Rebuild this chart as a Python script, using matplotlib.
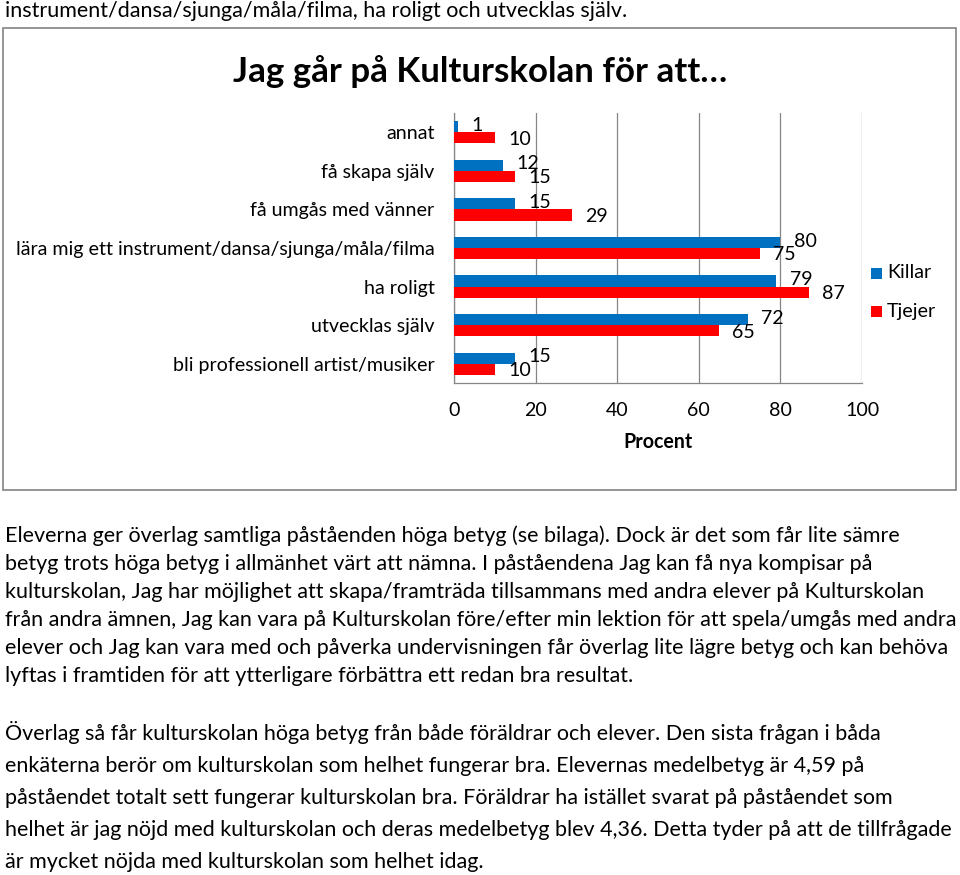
import matplotlib
matplotlib.use("Agg")
import matplotlib.pyplot as plt
from matplotlib.patches import Rectangle
import numpy as np

# ---------------- data ----------------
categories = ["annat", "få skapa själv", "få umgås med vänner",
              "lära mig ett instrument/dansa/sjunga/måla/filma",
              "ha roligt", "utvecklas själv", "bli professionell artist/musiker"]
killar = [1, 12, 15, 80, 79, 72, 15]
tjejer = [10, 15, 29, 75, 87, 65, 10]
series_names = ["Killar", "Tjejer"]
xticks = [0, 20, 40, 60, 80, 100]
title = "Jag går på Kulturskolan för att…"
xlabel = "Procent"

top_line = "instrument/dansa/sjunga/måla/filma, ha roligt och utvecklas själv."
para1 = [
    "Eleverna ger överlag samtliga påståenden höga betyg (se bilaga). Dock är det som får lite sämre",
    "betyg trots höga betyg i allmänhet värt att nämna. I påståendena Jag kan få nya kompisar på",
    "kulturskolan, Jag har möjlighet att skapa/framträda tillsammans med andra elever på Kulturskolan",
    "från andra ämnen, Jag kan vara på Kulturskolan före/efter min lektion för att spela/umgås med andra",
    "elever och Jag kan vara med och påverka undervisningen får överlag lite lägre betyg och kan behöva",
    "lyftas i framtiden för att ytterligare förbättra ett redan bra resultat.",
]
para2 = [
    "Överlag så får kulturskolan höga betyg från både föräldrar och elever. Den sista frågan i båda",
    "enkäterna berör om kulturskolan som helhet fungerar bra. Elevernas medelbetyg är 4,59 på",
    "påståendet totalt sett fungerar kulturskolan bra. Föräldrar ha istället svarat på påståendet som",
    "helhet är jag nöjd med kulturskolan och deras medelbetyg blev 4,36. Detta tyder på att de tillfrågade",
    "är mycket nöjda med kulturskolan som helhet idag.",
]

# ---------------- style ----------------
plt.rcParams['font.family'] = ['Lato', 'DejaVu Sans']
BLUE = "#0070C0"
RED = "#FF0000"
GRID = "#868686"
W, H = 960, 875

fig = plt.figure(figsize=(W / 100, H / 100), dpi=100)
renderer = fig.canvas.get_renderer()


def fx(x):
    return x / W


def fy(y):
    return 1 - y / H


def fit_size(s, target_px, weight="normal"):
    t = fig.text(0, 0, s, fontsize=10, weight=weight)
    w = t.get_window_extent(renderer).width
    t.remove()
    return 10 * target_px / w


# chart frame
fig.patches.append(Rectangle((fx(3), fy(490)), fx(953), (490 - 28) / H,
                             transform=fig.transFigure, fill=False,
                             edgecolor="#8c8c8c", linewidth=1.3))

# axes
ax = fig.add_axes([fx(454), fy(383), 408 / W, 270 / H])
y = np.arange(len(categories))
h = 0.29
ax.barh(y - h / 2, killar, h, color=BLUE, zorder=3)
ax.barh(y + h / 2, tjejer, h, color=RED, zorder=3)
ax.set_ylim(len(categories) - 0.5, -0.5)
ax.set_xlim(0, 100)

tick_fs = fit_size(categories[3], 419)

for yi, v in zip(y, killar):
    ax.annotate(str(v), (v, yi - h / 2), xytext=(9.5, 1), textcoords="offset points",
                ha="left", va="center", fontsize=tick_fs, zorder=4)
for yi, v in zip(y, tjejer):
    ax.annotate(str(v), (v, yi + h / 2), xytext=(9.5, -1), textcoords="offset points",
                ha="left", va="center", fontsize=tick_fs, zorder=4)

ax.set_yticks(y, categories, fontsize=tick_fs)
ax.set_xticks(xticks, [str(t) for t in xticks], fontsize=tick_fs)
ax.tick_params(axis="y", length=0, pad=14)
ax.tick_params(axis="x", length=0, pad=14)
ax.xaxis.grid(True, color=GRID, linewidth=0.9)
ax.set_axisbelow(True)
for side in ["top", "right"]:
    ax.spines[side].set_visible(False)
for side in ["left", "bottom"]:
    ax.spines[side].set_color(GRID)
    ax.spines[side].set_linewidth(0.9)

fig.text(fx(658), fy(442), xlabel, ha="center", va="center",
         fontsize=tick_fs, weight="bold")

# legend
for i, (name, col) in enumerate(zip(series_names, [BLUE, RED])):
    yc = 273 + i * 38
    fig.patches.append(Rectangle((fx(871), fy(yc + 5.5)), 11 / W, 11 / H,
                                 transform=fig.transFigure, facecolor=col,
                                 edgecolor="none"))
    fig.text(fx(887), fy(yc), name, ha="left", va="center", fontsize=tick_fs)

# title
fig.text(fx(480), fy(82), title, ha="center", va="baseline",
         fontsize=fit_size(title, 494, "bold"), weight="bold")

# document text
body_fs = fit_size(para1[3], 950)
fig.text(fx(5), fy(17), top_line, ha="left", va="baseline", fontsize=body_fs)
for i, line in enumerate(para1):
    fig.text(fx(5), fy(542 + 28 * i), line, ha="left", va="baseline", fontsize=body_fs)
for i, line in enumerate(para2):
    fig.text(fx(5), fy(740 + 32 * i), line, ha="left", va="baseline", fontsize=body_fs)

fig.savefig("out.png", dpi=100)
